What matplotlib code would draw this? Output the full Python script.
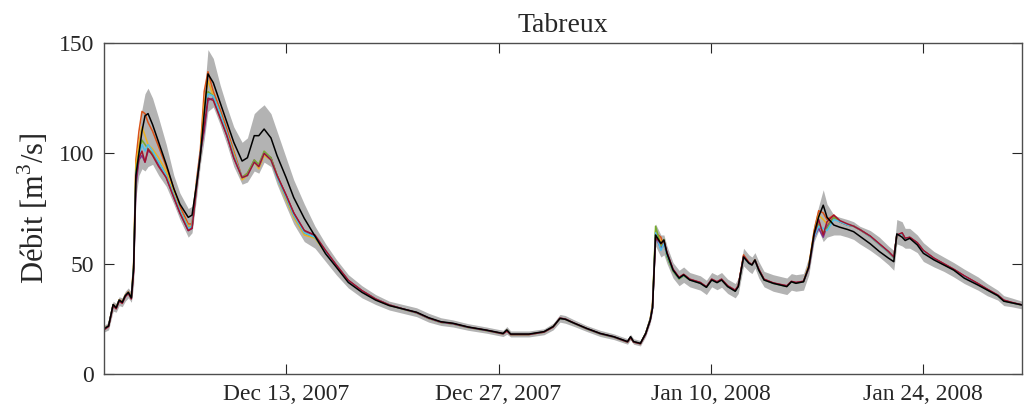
import numpy as np
import pandas as pd
import matplotlib
matplotlib.use("Agg")
import matplotlib.pyplot as plt
import matplotlib.dates as mdates

plt.rcParams['font.family'] = ['Liberation Serif', 'DejaVu Serif']
plt.rcParams['mathtext.fontset'] = 'custom'
plt.rcParams['mathtext.rm'] = 'Liberation Serif'

# time in days since 1 Dec 2007 (rows of 10)
days = [0, 0.3, 0.6, 0.8, 1.0, 1.2, 1.4, 1.6, 1.8, 1.95,
        2.1, 2.3, 2.5, 2.7, 2.9, 3.2, 3.6, 4.1, 4.6, 5.0,
        5.55, 5.8, 6.1, 6.35, 6.6, 6.85, 7.2, 7.65, 8.1, 8.55,
        9.1, 9.45, 9.9, 10.2, 10.55, 11.0, 11.4, 12.0, 12.5, 13.2,
        13.9, 14.6, 15.3, 16.1, 17.0, 17.9, 18.8, 19.7, 20.6, 21.4,
        22.2, 23.0, 24.0, 25.2, 26.3, 26.55, 26.8, 28.0, 29.0, 29.6,
        30.05, 30.4, 31.0, 31.8, 32.7, 33.6, 34.5, 34.7, 34.9, 35.35,
        35.7, 36.0, 36.15, 36.35, 36.7, 36.9, 37.1, 37.5, 37.9, 38.2,
        38.6, 39.3, 39.7, 40.05, 40.4, 40.7, 41.1, 41.6, 41.8, 42.15,
        42.5, 42.7, 42.9, 43.15, 43.5, 44.1, 45.0, 45.3, 45.6, 46.1,
        46.45, 46.8, 47.1, 47.4, 47.65, 48.1, 48.5, 49.0, 49.4, 49.8,
        50.5, 51.1, 51.7, 52.05, 52.25, 52.6, 52.8, 53.1, 53.6, 54.0,
        54.7, 55.35, 56.0, 56.7, 57.6, 58.2, 58.9, 59.3, 59.8, 60.5]

# black line
q_ref = [20.5, 21.8, 31.5, 30.0, 33.5, 32.5, 35.5, 37.0, 34.5, 48.0,
         90, 100, 110, 117, 118, 113, 105, 95, 84, 77,
         71, 72, 86, 99, 118, 136, 132, 123, 114, 105,
         96.5, 98, 108, 108, 111, 107, 99, 89, 80, 70.5,
         62.5, 54.5, 48.5, 41.5, 37, 33.5, 31, 29.5, 28, 25.5,
         23.7, 23, 21.3, 19.9, 18.4, 20, 18.1, 18.1, 19.2, 21.5,
         25.2, 24.8, 23, 20.7, 18.4, 16.9, 14.7, 16.9, 14.7, 13.9,
         18.4, 24.5, 30, 63, 59.2, 60.7, 54.7, 47.1, 43.4, 44.9,
         42.6, 41.1, 39.3, 42.6, 41.4, 42.6, 39.6, 37.5, 39.6, 53,
         50.2, 49.4, 51.7, 47.1, 42.6, 41.1, 39.6, 41.8, 41.1, 41.8,
         48.6, 63.7, 71.3, 76.5, 71, 67.5, 66.5, 65.5, 64.5, 62.5,
         59, 55.5, 52.5, 50.9, 63.5, 62, 60.5, 61.5, 58.5, 54.7,
         51.7, 49.4, 47.1, 43.4, 40.3, 38.1, 35.5, 33, 32.3, 31.3]

# grey envelope
band_hi = [22, 23.5, 33, 32, 35, 34.5, 37.5, 39, 37, 52,
           97, 108, 120, 127, 129.5, 125, 116, 104, 90, 82,
           75, 76, 90, 104, 126, 147, 143, 131, 121, 112,
           105, 107, 118, 120, 122, 118, 110, 98, 88, 77,
           67, 59, 52, 45, 40, 36, 33, 31.5, 30, 27.5,
           25.5, 24.5, 22.8, 21.3, 19.8, 21.5, 19.5, 19.5, 20.5, 23,
           27, 26.5, 24.5, 22, 19.8, 18.2, 16, 18, 16, 15.2,
           20, 26.5, 34, 68, 63, 63, 58, 50.5, 47, 48.5,
           46, 44.5, 42.5, 46, 44.8, 46, 43, 41, 43.5, 57,
           54, 53, 55, 51, 46.5, 45, 43.5, 45.5, 45, 45.5,
           53, 68, 76, 83.5, 77, 72, 71, 70, 69, 67,
           65, 62, 58, 56, 70, 69, 66, 66, 63, 59.5,
           55.5, 53, 50.5, 47.5, 44, 41, 38, 35.5, 34.5, 33]
band_lo = [19, 20, 28.5, 28, 31, 30.5, 33, 34.5, 32.5, 40,
           80, 90, 93, 92, 94, 95, 90, 85, 77, 70,
           62, 64, 80, 95, 106, 119, 121, 113, 104, 94,
           86, 87, 92, 91, 96, 94, 86, 76, 68, 60,
           57, 51, 45, 39, 34.5, 31.5, 29, 27.5, 26, 23.5,
           22, 21.3, 19.8, 18.5, 17, 18, 16.8, 16.8, 17.8, 20,
           23.5, 23, 21.5, 19.3, 17, 15.6, 13.5, 15.5, 13.5, 12.7,
           17, 23, 28, 58, 53, 54, 50, 43.5, 40, 41.5,
           39.5, 38, 36, 39.5, 38.2, 39.3, 36.5, 34.5, 36.5, 49,
           46.5, 45.5, 48, 43.5, 39.5, 37.5, 36, 38, 37.5, 38,
           45, 60, 65, 60, 62, 63, 63, 62, 61, 59,
           56, 53, 49.5, 47, 59, 58, 57, 57, 55, 51,
           48.5, 46.5, 44, 41, 38, 35.5, 33.5, 31, 30.5, 29.5]

# ensemble members
m_orange = [20.6, 22, 31.5, 30.2, 33.7, 32.8, 35.8, 37.2, 35, 50,
            97, 110, 119, 118, 114, 110, 103, 94, 84, 76,
            68, 68, 88, 102, 128, 137, 128, 120, 111, 101,
            89, 91, 96, 95, 100, 98, 90, 81, 73, 64,
            62, 55.5, 49, 42.2, 37.5, 33.8, 31.2, 29.4, 27.7, 25.2,
            23.4, 22.7, 21.1, 19.7, 18.2, 19.6, 17.9, 17.9, 19, 21.4,
            25.2, 24.8, 22.9, 20.5, 18.2, 16.7, 14.5, 16.6, 14.5, 13.8,
            18.5, 25, 32, 64, 62, 58, 55, 47, 43.5, 45,
            42.8, 41.3, 39.4, 42.8, 41.6, 42.8, 39.8, 37.8, 39.8, 54,
            50.5, 49.6, 51.8, 47.3, 42.8, 41.2, 39.8, 41.9, 41.3, 42,
            49, 65, 74, 73, 70, 72, 69, 67.5, 67, 65.5,
            62.3, 58.8, 55.3, 52.8, 62.5, 63.5, 61.3, 61.8, 59.3, 55.8,
            52.3, 49.8, 47.3, 44.3, 40.8, 38.3, 35.6, 33.3, 32.4, 31.2]
m_yellow = [20.5, 21.9, 31.3, 30, 33.5, 32.6, 35.6, 37, 34.8, 49,
            95, 104, 112, 108, 104, 102, 98, 92, 82, 74,
            67, 67, 86, 100, 122, 133, 126, 118, 109, 100,
            88, 90, 96, 93, 99, 97, 89, 79, 71, 63,
            61.5, 55, 48.8, 42, 37.4, 33.8, 31.2, 29.4, 27.7, 25.2,
            23.4, 22.7, 21.1, 19.7, 18.2, 19.8, 17.9, 17.9, 19, 21.4,
            25.2, 24.8, 22.9, 20.5, 18.2, 16.7, 14.5, 16.6, 14.5, 13.8,
            18.5, 25, 31, 65, 60, 59, 54, 47, 43.5, 45,
            42.8, 41.3, 39.4, 42.8, 41.6, 42.8, 39.8, 37.8, 39.8, 53.5,
            50.3, 49.5, 51.6, 47.2, 42.7, 41.1, 39.7, 41.8, 41.2, 41.9,
            49, 64, 72, 70, 68, 71, 69, 67.5, 67, 65.5,
            62.2, 58.7, 55.2, 52.7, 62.8, 63.6, 61.2, 61.7, 59.2, 55.7,
            52.2, 49.7, 47.2, 44.2, 40.7, 38.2, 35.5, 33.2, 32.3, 31.2]
m_purple = [20.3, 21.7, 31.2, 29.8, 33.3, 32.3, 35.3, 36.8, 34.3, 47,
            85, 97, 99, 96, 101, 100, 95, 89, 80, 73,
            65, 66, 85, 100, 110, 124, 125, 117, 108, 98,
            89, 90, 97, 94, 100, 98, 90, 81, 73, 65,
            62.5, 55.8, 49.3, 42.4, 37.7, 34, 31.3, 29.5, 27.8, 25.3,
            23.5, 22.8, 21.2, 19.8, 18.3, 19.6, 18, 18, 19.1, 21.4,
            25.3, 24.9, 23, 20.6, 18.3, 16.8, 14.6, 16.7, 14.6, 13.8,
            18.2, 24.5, 30, 62, 57, 60, 55, 47.5, 43.6, 45,
            42.9, 41.4, 39.5, 42.9, 41.7, 42.9, 39.9, 37.9, 39.9, 53,
            50.4, 49.5, 51.6, 47.4, 42.9, 41.2, 39.9, 41.9, 41.4, 42,
            48, 62, 66, 62, 67, 71, 69, 67.5, 67, 65.5,
            62.4, 58.9, 55.4, 52.9, 62.6, 63.8, 61.4, 61.9, 59.4, 55.9,
            52.4, 49.9, 47.4, 44.4, 40.9, 38.4, 35.7, 33.4, 32.4, 31.3]
m_green = [20.4, 21.8, 31.3, 29.9, 33.4, 32.4, 35.4, 36.9, 34.4, 48,
           92, 100, 106, 104, 102, 100, 96, 90, 81, 74,
           66, 67, 86, 100, 115, 128, 126, 118, 109, 99,
           89, 91, 97, 95, 101, 98, 90, 80, 72, 64,
           62, 55.5, 49, 42.2, 37.5, 33.9, 31.2, 29.4, 27.7, 25.2,
           23.4, 22.7, 21.1, 19.7, 18.2, 19.7, 17.9, 17.9, 19, 21.4,
           25.2, 24.8, 22.9, 20.5, 18.2, 16.7, 14.5, 16.6, 14.5, 13.8,
           18.4, 25, 31, 67, 58, 61, 53, 46.5, 43, 44.5,
           42.7, 41.2, 39.3, 42.7, 41.5, 42.7, 39.7, 37.7, 39.7, 53,
           50.2, 49.4, 51.5, 47.1, 42.7, 41.1, 39.7, 41.8, 41.2, 41.9,
           48, 63, 68, 64, 66, 71, 69, 67.5, 67, 65.5,
           62.2, 58.7, 55.2, 52.7, 62.8, 63.6, 61.2, 61.7, 59.2, 55.7,
           52.2, 49.7, 47.2, 44.2, 40.7, 38.2, 35.5, 33.2, 32.3, 31.2]
m_cyan = [20.4, 21.8, 31.3, 29.9, 33.4, 32.4, 35.4, 36.9, 34.4, 48,
          90, 99, 104, 101, 104, 101, 96, 90, 81, 74,
          66, 67, 86, 100, 114, 127, 126, 118, 109, 99,
          89, 90, 96, 94, 100, 97, 89, 80, 72, 64,
          62, 55.5, 49, 42.2, 37.5, 33.9, 31.2, 29.4, 27.7, 25.2,
          23.4, 22.7, 21.1, 19.7, 18.2, 19.7, 17.9, 17.9, 19, 21.4,
          25.2, 24.8, 22.9, 20.5, 18.2, 16.7, 14.5, 16.6, 14.5, 13.8,
          18.4, 24.8, 30, 64, 56, 59, 54, 47, 43.3, 44.8,
          42.7, 41.2, 39.3, 42.7, 41.5, 42.7, 39.7, 37.7, 39.7, 53,
          50.2, 49.4, 51.5, 47.1, 42.7, 41.1, 39.7, 41.8, 41.2, 41.9,
          48, 62, 67, 66, 65, 70, 69, 67.5, 67, 65.5,
          62.2, 58.7, 55.2, 52.7, 62.8, 63.6, 61.2, 61.7, 59.2, 55.7,
          52.2, 49.7, 47.2, 44.2, 40.7, 38.2, 35.5, 33.2, 32.3, 31.2]
m_darkred = [20, 21.5, 31, 29.5, 33, 32, 35, 36.5, 34, 46,
             88, 98, 101, 96, 102, 99, 94, 89, 80, 73,
             65, 66, 85, 100, 112, 125, 124, 116, 108, 98,
             89, 90, 96, 94, 100, 97, 90, 81, 73, 65,
             63, 56, 49.5, 42.5, 37.8, 34, 31.3, 29.5, 27.8, 25.3,
             23.5, 22.8, 21.2, 19.8, 18.2, 19.5, 17.9, 17.9, 19, 21.3,
             25.3, 24.9, 23, 20.6, 18.3, 16.8, 14.5, 16.5, 14.5, 13.7,
             18.2, 24.5, 30, 62, 59, 60.5, 55, 47.5, 43.8, 45.2,
             43, 41.5, 39.5, 43, 41.8, 43, 40, 38, 40, 53.5,
             50.5, 49.5, 51.5, 47.5, 43, 41.3, 40, 42, 41.5, 42,
             48, 63, 70, 63, 69, 72, 69.5, 68, 67, 65.5,
             62.5, 59, 55.5, 53, 63, 64, 61.5, 62, 59.5, 56,
             52.5, 50, 47.5, 44.5, 41, 38.5, 35.8, 33.5, 32.5, 31.3]

members = [(m_orange, '#D95319'), (m_yellow, '#EDB120'), (m_purple, '#7E2F8E'),
           (m_green, '#77AC30'), (m_cyan, '#4DBEEE'), (m_darkred, '#A2142F')]

t = pd.Timestamp('2007-12-01') + pd.to_timedelta(days, unit='D')

fig = plt.figure(figsize=(10.26, 4.11), dpi=100)
ax = fig.add_axes([0.1014, 0.090, 0.8947, 0.8054])

ax.fill_between(t, band_lo, band_hi, color='#b3b3b3', lw=0)
for vals, col in members:
    ax.plot(t, vals, color=col, lw=1.1)
ax.plot(t, q_ref, color='black', lw=1.1)

ax.set_xlim(pd.Timestamp('2007-12-01'), pd.Timestamp('2008-01-30 12:00'))
ax.set_ylim(0, 150)
ax.set_yticks([0, 50, 100, 150])
ax.set_xticks(pd.to_datetime(['2007-12-13', '2007-12-27', '2008-01-10', '2008-01-24']))
ax.xaxis.set_major_formatter(mdates.DateFormatter('%b %d, %Y'))

dark = '#262626'
ax.tick_params(direction='in', length=7, width=0.8, top=True, right=True,
               labelsize=17, colors=dark, pad=7)
for s in ax.spines.values():
    s.set_color('#4d4d4d')
    s.set_linewidth(1.0)

ax.set_title('Tabreux', fontsize=20, color=dark, pad=8)
ax.set_ylabel(r'Débit [m$^{3}$/s]', fontsize=22, color=dark)
ax.yaxis.set_label_coords(-0.058, 0.5)

fig.savefig('out.png', dpi=100)
